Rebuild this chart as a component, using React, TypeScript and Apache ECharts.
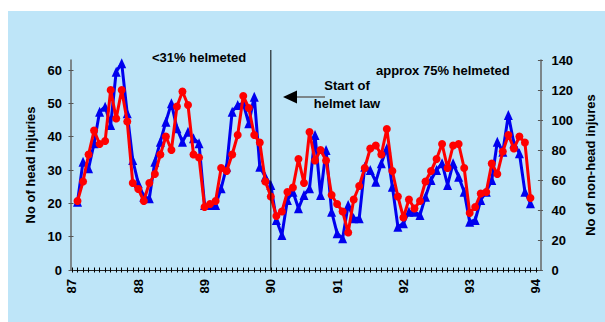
import React, { useEffect, useRef } from "react";
import * as echarts from "echarts";

// ---- data ----
const startYear = 87;
const endYear = 94;
const yearLabels = [87, 88, 89, 90, 91, 92, 93, 94];
const lawYear = 90;
// monthly counts, Feb 87 .. Dec 93
const headInjuries = [
  20.5, 32.5, 30.5, 38, 47.5, 49, 43.5, 59.5, 62, 47, 33, 26,
  22, 21.5, 32.5, 38.5, 44.5, 50, 42.5, 38.5, 41.5, 39.5, 38, 19.5,
  19.5, 19.5, 24.5, 31, 47.5, 49.5, 50, 44, 52, 31, 28, 25.5,
  15, 10.5, 21, 23.5, 18.5, 22.5, 24.5, 40.5, 22.5, 36, 17.5, 11,
  9.5, 19.5, 15.5, 15.5, 31, 30, 26.5, 32, 36.5, 25, 13, 14,
  17.5, 17.5, 16.5, 22, 27, 30, 32, 25.5, 32, 28, 23.5, 14.5,
  15, 21, 23.5, 27, 38.5, 35.5, 46.5, 38, 35, 23.5, 20,
];
const nonHeadInjuries = [
  46, 59, 77, 93, 84, 86, 120, 101, 120, 99, 58, 54,
  46, 58, 64, 77, 89, 80, 109, 119, 110, 77, 75, 42,
  44, 46, 68, 66, 77, 90, 116, 108, 90, 85, 59, 49,
  36, 39, 52, 55, 74, 58, 92, 73, 80, 73, 50, 44,
  39, 25, 47, 56, 68, 81, 83, 77, 94, 66, 49, 35,
  47, 41, 46, 59, 66, 74, 84, 68, 83, 84, 68, 38,
  42, 51, 52, 71, 64, 79, 90, 81, 89, 85, 48,
];
const leftTicks = [0, 10, 20, 30, 40, 50, 60];
const rightTicks = [0, 20, 40, 60, 80, 100, 120, 140];
const monthTicks: number[] = [];
for (let y = startYear; y < endYear; y++) {
  for (let m = 0; m < 12; m++) monthTicks.push(+(y + m / 12).toFixed(5));
}
monthTicks.push(endYear);

const toSeries = (vals: number[]) => vals.map((v, i) => [startYear + (i + 1) / 12, v]);

const FONT = "'Liberation Sans', Arial, sans-serif";
const BG = "#bee5f8";

export default function App() {
  const ref = useRef<HTMLDivElement>(null);
  useEffect(() => {
    if (!ref.current) return;
    const chart = echarts.init(ref.current, null, { renderer: "svg" });
    const xMin = 86.985;
    const xMax = 94.067;
    const labelStyle = { color: "#000", fontSize: 13, fontWeight: "bold" as const, fontFamily: FONT };
    const baseX = {
      type: "value",
      min: xMin,
      max: xMax,
      position: "bottom",
      splitLine: { show: false },
    };
    const option: any = {
      animation: false,
      backgroundColor: BG,
      textStyle: { fontFamily: FONT },
      grid: { left: 63, right: 55, top: 49, bottom: 52 },
      xAxis: [
        {
          ...baseX,
          axisLine: { show: true, lineStyle: { color: "#222", width: 1 } },
          axisTick: { show: true, length: 2.5, customValues: monthTicks, lineStyle: { color: "#000" } },
          axisLabel: {
            ...labelStyle,
            rotate: 90,
            margin: 9,
            customValues: yearLabels,
            formatter: (v: number) => String(Math.round(v)),
          },
        },
        {
          ...baseX,
          axisLine: { show: false },
          axisTick: { show: true, inside: true, length: 2.5, customValues: monthTicks, lineStyle: { color: "#000" } },
          axisLabel: { show: false },
        },
      ],
      yAxis: [
        {
          type: "value",
          position: "left",
          min: 0,
          max: 63,
          splitLine: { show: false },
          axisLine: { show: true, lineStyle: { color: "#666", width: 1.5 } },
          axisTick: { show: true, length: 2.5, customValues: leftTicks, lineStyle: { color: "#555" } },
          axisLabel: { ...labelStyle, margin: 9, customValues: leftTicks },
          name: "No of head injuries",
          nameLocation: "middle",
          nameRotate: 90,
          nameGap: 30,
          nameTextStyle: { ...labelStyle },
        },
        {
          type: "value",
          position: "right",
          min: 0,
          max: 140,
          interval: 20,
          splitLine: { show: false },
          axisLine: { show: true, lineStyle: { color: "#666", width: 1.5 } },
          axisTick: { show: true, length: 2.5, lineStyle: { color: "#555" } },
          axisLabel: { ...labelStyle, margin: 11 },
          name: "No of non-head injures",
          nameLocation: "middle",
          nameRotate: 90,
          nameGap: 28,
          nameTextStyle: { ...labelStyle },
        },
        {
          type: "value",
          position: "left",
          min: 0,
          max: 63,
          splitLine: { show: false },
          axisLine: { show: false },
          axisTick: { show: true, inside: true, length: 2.5, customValues: leftTicks, lineStyle: { color: "#555" } },
          axisLabel: { show: false },
        },
        {
          type: "value",
          position: "right",
          min: 0,
          max: 140,
          interval: 20,
          splitLine: { show: false },
          axisLine: { show: false },
          axisTick: { show: true, inside: true, length: 2.5, lineStyle: { color: "#555" } },
          axisLabel: { show: false },
        },
      ],
      series: [
        {
          name: "Head injuries",
          type: "line",
          xAxisIndex: 0,
          yAxisIndex: 0,
          data: toSeries(headInjuries),
          symbol: "triangle",
          symbolSize: [9, 10],
          lineStyle: { color: "#0000ee", width: 3 },
          itemStyle: { color: "#0000ee" },
          z: 2,
        },
        {
          name: "Non-head injuries",
          type: "line",
          xAxisIndex: 0,
          yAxisIndex: 1,
          data: toSeries(nonHeadInjuries),
          symbol: "circle",
          symbolSize: 8,
          lineStyle: { color: "#ff0000", width: 3 },
          itemStyle: { color: "#ff0000" },
          z: 3,
        },
      ],
    };
    chart.setOption(option);

    const lx = chart.convertToPixel({ xAxisIndex: 0 }, lawYear) as number;
    const y0 = chart.convertToPixel({ yAxisIndex: 0 }, 0) as number;
    const textStyle = { fill: "#000", font: `bold 13px ${FONT}` };
    chart.setOption({
      graphic: [
        { type: "line", id: "law", shape: { x1: lx, y1: 39, x2: lx, y2: y0 }, style: { stroke: "#000", lineWidth: 1 }, z: 10 },
        { type: "text", id: "t1", x: 144, y: 46, style: { ...textStyle, text: "<31% helmeted", verticalAlign: "middle" } },
        { type: "text", id: "t2", x: 368, y: 59, style: { ...textStyle, text: "approx 75% helmeted", verticalAlign: "middle" } },
        { type: "text", id: "t3", x: 339, y: 74, style: { ...textStyle, text: "Start of", align: "center", verticalAlign: "middle" } },
        { type: "text", id: "t4", x: 339, y: 92, style: { ...textStyle, text: "helmet law", align: "center", verticalAlign: "middle" } },
        { type: "line", id: "al", shape: { x1: 288, y1: 86, x2: 317, y2: 86 }, style: { stroke: "#666", lineWidth: 1.5 } },
        { type: "polygon", id: "ah", shape: { points: [[275, 86], [289, 79.5], [289, 92.5]] }, style: { fill: "#000" } },
      ],
    });
    return () => chart.dispose();
  }, []);
  return (
    <div
      ref={ref}
      style={{ position: "fixed", left: 8, top: 11, width: 597, height: 311 }}
    />
  );
}
